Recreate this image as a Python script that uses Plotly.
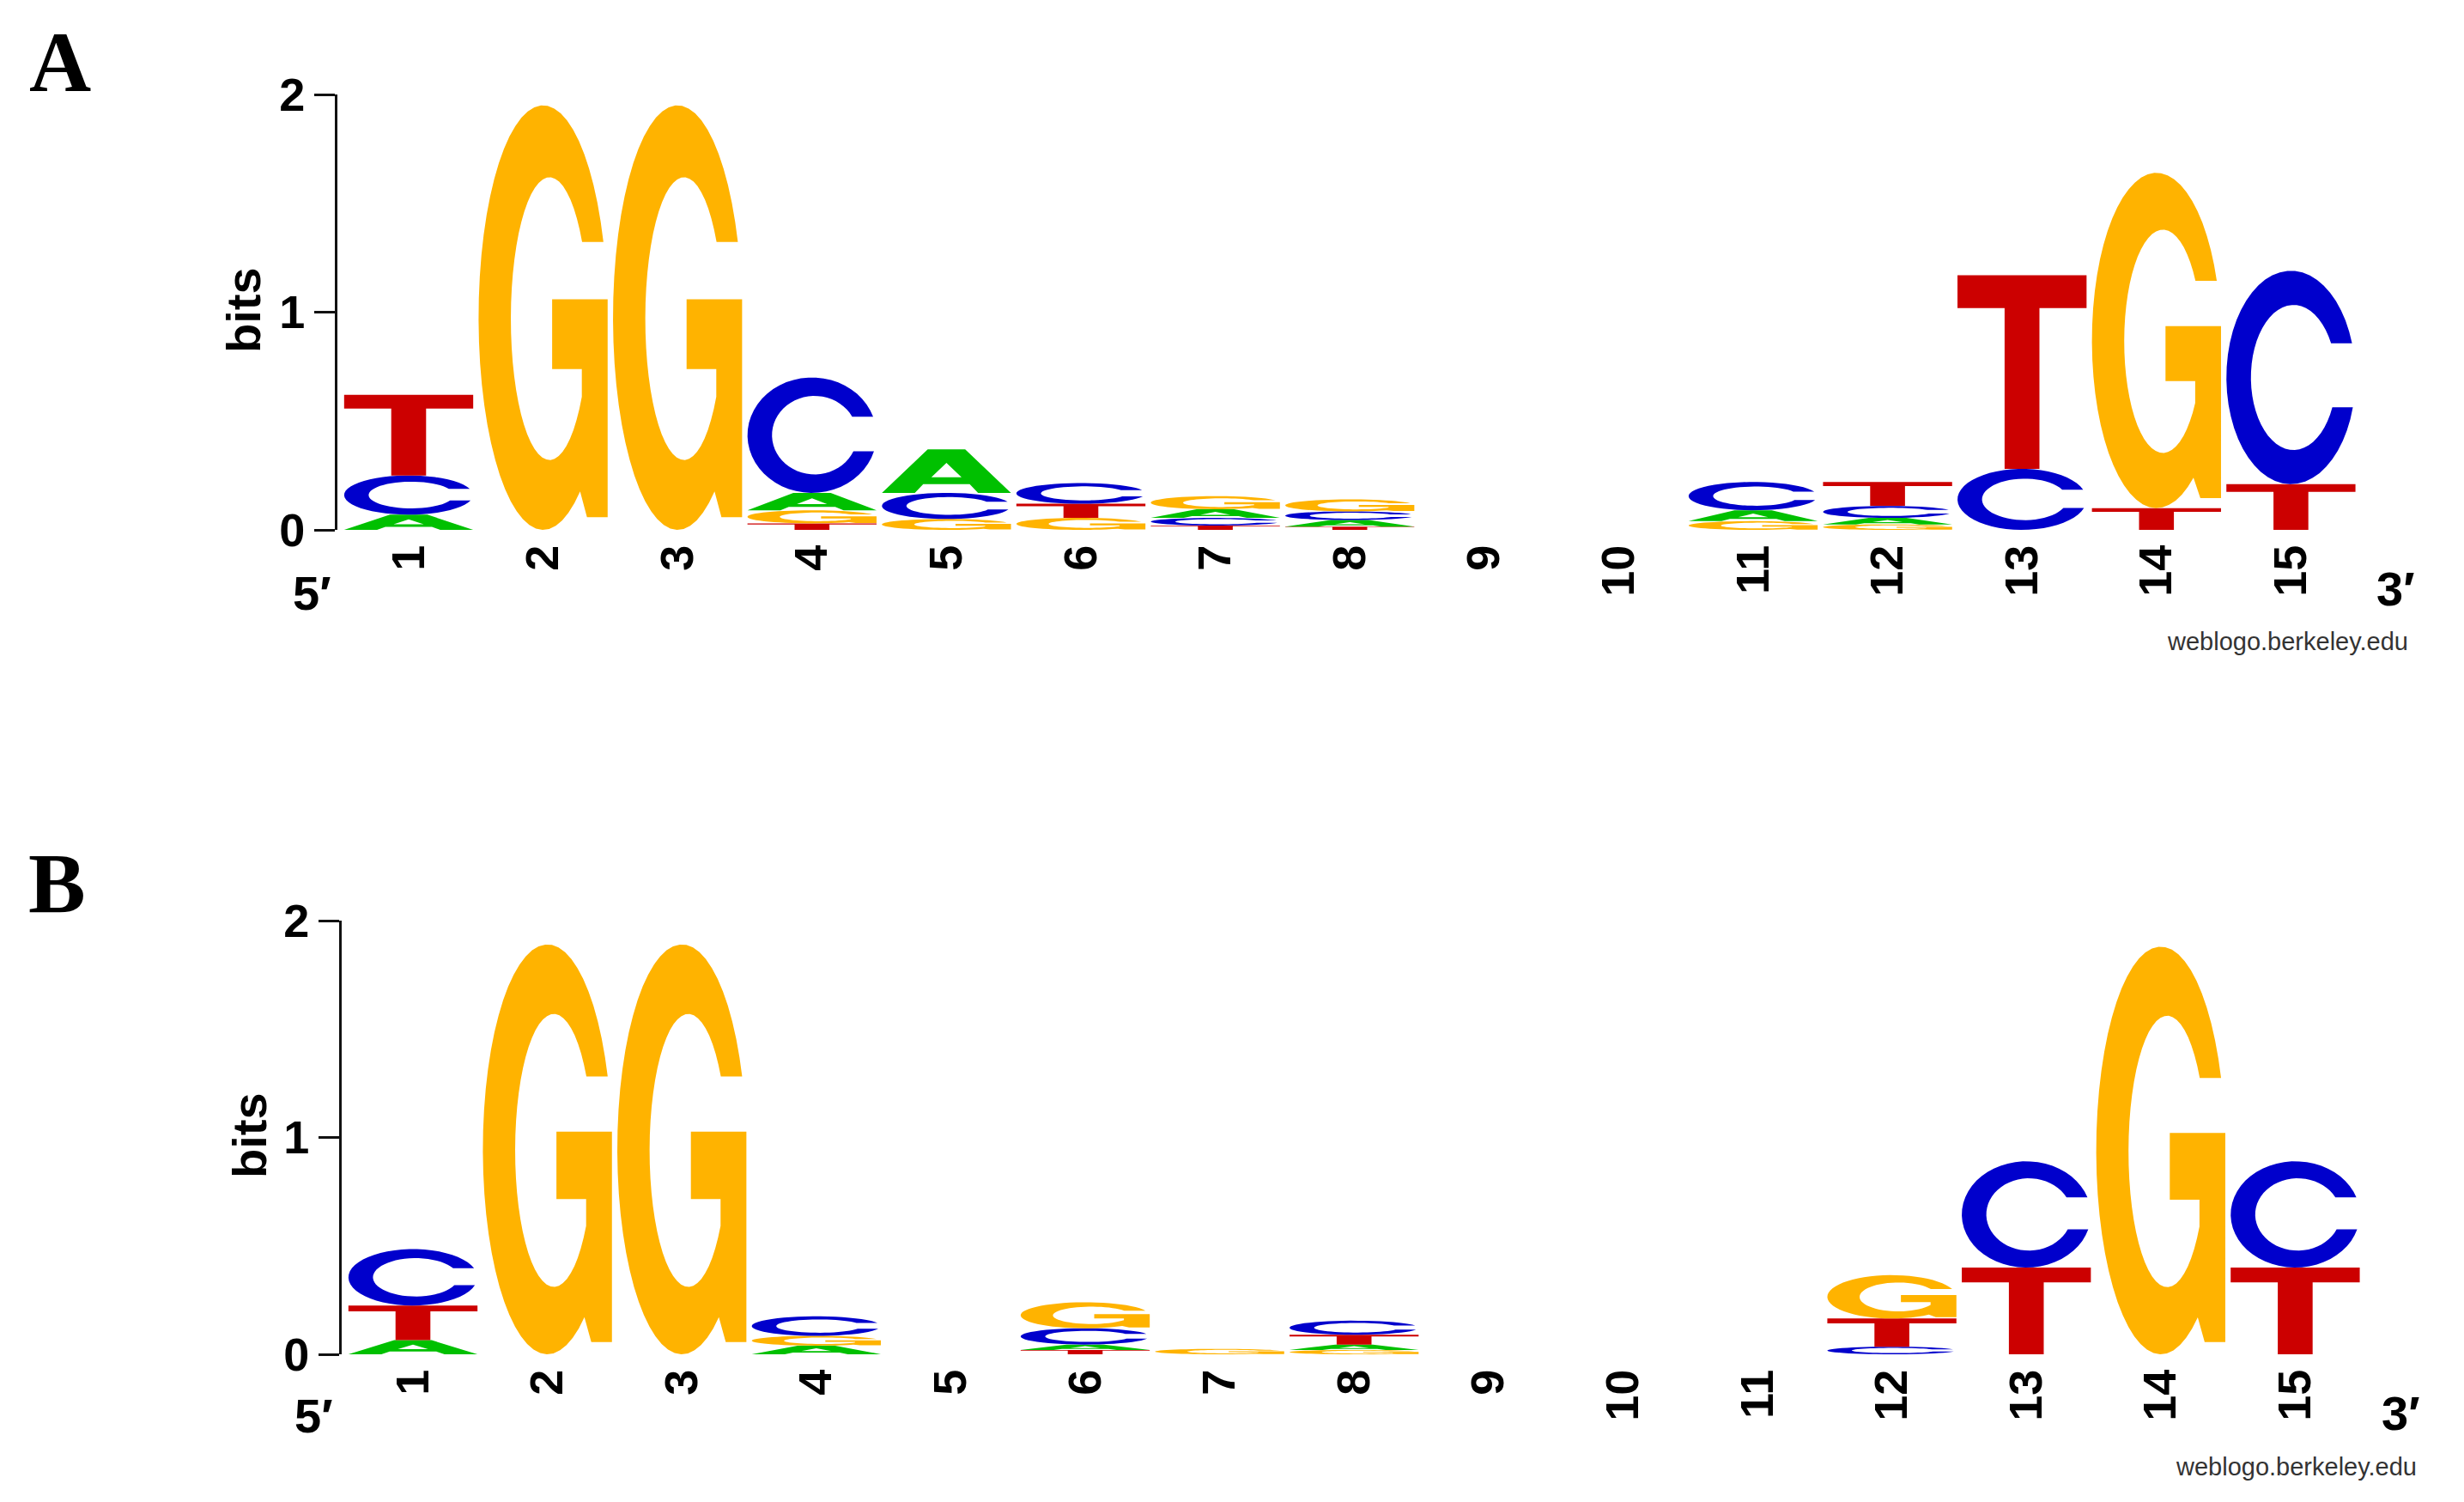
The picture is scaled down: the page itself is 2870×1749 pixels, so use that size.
import math
import plotly.graph_objects as go

# ---------------- data (bits per letter at each position) ----------------
positions = list(range(1, 16))
tick_labels = [str(p) for p in positions]
letters = ["A", "C", "G", "T"]

# Panel A
a_A = [0.07, 0, 0, 0.08, 0.20, 0, 0.04, 0.03, 0, 0, 0.05, 0.03, 0, 0, 0]
a_C = [0.18, 0, 0, 0.53, 0.12, 0.095, 0.035, 0.04, 0, 0, 0.13, 0.055, 0.28, 0, 0.98]
a_G = [0, 1.95, 1.95, 0.06, 0.05, 0.055, 0.06, 0.055, 0, 0, 0.04, 0.025, 0, 1.54, 0]
a_T = [0.37, 0, 0, 0.03, 0, 0.065, 0.02, 0.015, 0, 0, 0, 0.11, 0.89, 0.10, 0.21]

# Panel B
b_A = [0.065, 0, 0, 0.04, 0, 0.025, 0, 0.025, 0, 0, 0, 0, 0, 0, 0]
b_C = [0.26, 0, 0, 0.09, 0, 0.075, 0, 0.065, 0, 0, 0, 0.035, 0.49, 0, 0.49]
b_G = [0, 1.89, 1.89, 0.045, 0, 0.12, 0.025, 0.02, 0, 0, 0, 0.20, 0, 1.88, 0]
b_T = [0.16, 0, 0, 0, 0, 0.02, 0, 0.045, 0, 0, 0, 0.13, 0.40, 0, 0.40]

panel_labels = ["A", "B"]
colors = {"A": "#00C000", "C": "#0000CC", "G": "#FFB300", "T": "#CC0000"}

# ---------------- glyph outlines in a unit box ----------------
def arc(cx, cy, rx, ry, a0, a1, n=48):
    pts = []
    for i in range(n + 1):
        a = math.radians(a0 + (a1 - a0) * i / n)
        pts.append((cx + rx * math.cos(a), cy + ry * math.sin(a)))
    return pts

def glyph_A():
    outer = [(0, 0), (0.355, 1), (0.645, 1), (1, 0), (0.745, 0), (0.68, 0.2),
             (0.32, 0.2), (0.255, 0)]
    hole = [(0.383, 0.36), (0.5, 0.69), (0.617, 0.36)]
    return [outer, hole]

def glyph_C():
    t_top = math.degrees(math.asin(0.16 / 0.5))
    t_bot = 360 - math.degrees(math.asin(0.14 / 0.5))
    i_bot = 360 - math.degrees(math.asin(0.14 / 0.34))
    i_top = math.degrees(math.asin(0.16 / 0.34))
    pts = arc(0.5, 0.5, 0.5, 0.5, t_top, t_bot) + arc(0.52, 0.5, 0.33, 0.34, i_bot, i_top)
    return [pts]

def glyph_G():
    t_top = math.degrees(math.asin(0.178 / 0.5))
    outer = arc(0.5, 0.5, 0.5, 0.5, t_top, 305)
    cx, cy, rx, ry = 0.55, 0.4975, 0.30, 0.333
    phi0 = -math.degrees(math.acos((0.8 - cx) / rx))
    phi1 = math.degrees(math.asin((0.678 - cy) / ry)) - 360
    inner = arc(cx, cy, rx, ry, phi0, phi1)
    pts = outer + [(0.84, 0.03), (1.0, 0.03), (1.0, 0.543), (0.57, 0.543),
                   (0.57, 0.379), (0.8, 0.379)] + inner
    return [pts]

def glyph_T():
    return [[(0, 1), (1, 1), (1, 0.83), (0.635, 0.83), (0.635, 0),
             (0.365, 0), (0.365, 0.83), (0, 0.83)]]

GLYPHS = {"A": glyph_A(), "C": glyph_C(), "G": glyph_G(), "T": glyph_T()}
LETTER_W = 0.96

def letter_path(letter, xc, y0, h):
    parts = []
    for poly in GLYPHS[letter]:
        seg = []
        for k, (u, v) in enumerate(poly):
            x = xc - LETTER_W / 2 + u * LETTER_W
            y = y0 + v * h
            seg.append(("M" if k == 0 else "L") + f"{x:.5f},{y:.6f}")
        parts.append(" ".join(seg) + " Z")
    return " ".join(parts)

# ---------------- figure ----------------
W, H = 2870, 1749
fig = go.Figure()

panels = [
    {"data": {"A": a_A, "C": a_C, "G": a_G, "T": a_T}, "xa": "x", "ya": "y",
     "ax_px": 393, "y0_px": 617, "y2_px": 110},
    {"data": {"A": b_A, "C": b_C, "G": b_G, "T": b_T}, "xa": "x2", "ya": "y2",
     "ax_px": 398, "y0_px": 1577, "y2_px": 1072},
]
SPACING = 156.6
X_LEFT = 0.47
RIGHT_PX = 2810

shapes = []
for p in panels:
    for i, pos in enumerate(positions):
        hs = [(p["data"][L][i], L) for L in letters if p["data"][L][i] > 0]
        hs.sort()
        base = 0.0
        for h, L in hs:
            shapes.append(dict(type="path", xref=p["xa"], yref=p["ya"],
                               path=letter_path(L, pos, base, h),
                               fillcolor=colors[L], line=dict(width=0),
                               fillrule="evenodd", layer="above"))
            base += h
    fig.add_trace(go.Scatter(x=[positions[0]], y=[0], mode="markers",
                             marker=dict(opacity=0), xaxis=p["xa"], yaxis=p["ya"],
                             showlegend=False, hoverinfo="skip"))

xtick_font = dict(family="Liberation Sans, Arial, sans-serif", size=54, color="black", weight="bold")
ytick_font = dict(family="Liberation Sans, Arial, sans-serif", size=54, color="black", weight="bold")

def xaxis_cfg(p):
    x_right = X_LEFT + (RIGHT_PX - p["ax_px"]) / SPACING
    return dict(domain=[p["ax_px"] / W, RIGHT_PX / W], range=[X_LEFT, x_right],
                tickmode="array", tickvals=positions, ticktext=tick_labels,
                tickangle=-90, tickfont=xtick_font, ticks="", showgrid=False,
                zeroline=False, showline=False, anchor=p["ya"], automargin=False,
                ticklabelstandoff=6, fixedrange=True)

def yaxis_cfg(p):
    return dict(domain=[1 - p["y0_px"] / H, 1 - p["y2_px"] / H], range=[0, 2],
                tickmode="array", tickvals=[0, 1, 2], ticktext=["0", "1", "2"],
                tickfont=ytick_font, ticks="outside", ticklen=24, tickwidth=3,
                tickcolor="#111", showline=True, linecolor="#111", linewidth=3,
                showgrid=False, zeroline=False, fixedrange=True, automargin=False,
                anchor=p["xa"], ticklabelstandoff=0)

fig.update_layout(
    template="none",
    width=W, height=H, autosize=False,
    margin=dict(l=0, r=0, t=0, b=0, pad=0, autoexpand=False),
    paper_bgcolor="white", plot_bgcolor="white", showlegend=False,
    xaxis=xaxis_cfg(panels[0]), yaxis=yaxis_cfg(panels[0]),
    xaxis2=xaxis_cfg(panels[1]), yaxis2=yaxis_cfg(panels[1]),
    shapes=shapes,
)

def px(x, y):
    return x / W, 1 - y / H

ann = []
label_font = dict(family="Liberation Serif, Times New Roman, serif", size=100, color="black", weight="bold")
side_font = dict(family="Liberation Sans, Arial, sans-serif", size=56, color="black", weight="bold")
bits_font = dict(family="Liberation Sans, Arial, sans-serif", size=56, color="black", weight="bold")
web_font = dict(family="Liberation Sans, Arial, sans-serif", size=29, color="#333333")

specs = [
    # (panel label, bits, 5', 3', weblogo right edge) centres in pixels
    ((70, 72), (284, 361), (363, 690), (2790, 685), (2807, 747)),
    ((66, 1028), (290, 1322), (365, 1648), (2796, 1645), (2817, 1708)),
]
for k, (lab, bits, five, three, web) in enumerate(specs):
    x, y = px(*lab)
    ann.append(dict(x=x, y=y, xref="paper", yref="paper", text=panel_labels[k],
                    showarrow=False, font=label_font, xanchor="center", yanchor="middle"))
    x, y = px(*bits)
    ann.append(dict(x=x, y=y, xref="paper", yref="paper", text="bits", textangle=-90,
                    showarrow=False, font=bits_font, xanchor="center", yanchor="middle"))
    x, y = px(*five)
    ann.append(dict(x=x, y=y, xref="paper", yref="paper", text="5′",
                    showarrow=False, font=side_font, xanchor="center", yanchor="middle"))
    x, y = px(*three)
    ann.append(dict(x=x, y=y, xref="paper", yref="paper", text="3′",
                    showarrow=False, font=side_font, xanchor="center", yanchor="middle"))
    x, y = px(*web)
    ann.append(dict(x=x, y=y, xref="paper", yref="paper", text="weblogo.berkeley.edu",
                    showarrow=False, font=web_font, xanchor="right", yanchor="middle"))
fig.update_layout(annotations=ann)

fig.write_html("out.html", config={"displayModeBar": False},
               post_script="document.body.style.margin='0';")
